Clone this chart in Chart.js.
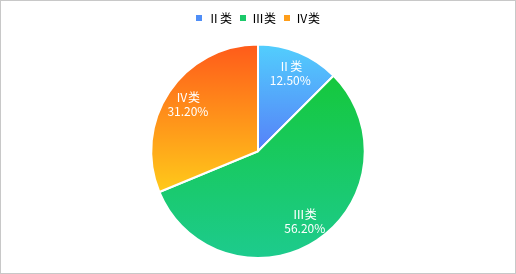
<!DOCTYPE html>
<html>
<head>
<meta charset="utf-8">
<script src="https://cdn.jsdelivr.net/npm/chart.js@4"></script>
<style>
    body { margin: 0; background: #fff; }
    #wrap { width: 514px; height: 272px; border: 1px solid #c8c8c8; position: relative; }
</style>
</head>
<body>
<div id="wrap"><canvas id="pie-chart"></canvas></div>
<script>
// chart data
const categories = ['Ⅱ类', 'Ⅲ类', 'Ⅳ类'];
const shares = [12.5, 56.2, 31.2];

// gradient stops per slice (top -> bottom)
const gradTop = ['#52cffd', '#15c83c', '#ff5a1a'];
const gradBottom = ['#5680f8', '#1dcb8e', '#ffca1a'];
const legendColors = ['#4f8ef7', '#1bc96a', '#ff9e1a'];

const fontFamily = '"Noto Sans CJK SC", "Noto Sans", sans-serif';

function sliceGradient(context) {
    const chart = context.chart;
    const area = chart.chartArea;
    const i = context.dataIndex;
    if (!area) return legendColors[i];
    const cx = (area.left + area.right) / 2;
    const cy = (area.top + area.bottom) / 2;
    const r = Math.min(area.width, area.height) / 2;
    const total = shares.reduce((a, b) => a + b, 0);
    let before = 0;
    for (let k = 0; k < i; k++) before += shares[k];
    const a0 = -Math.PI / 2 + before / total * Math.PI * 2;
    const a1 = a0 + shares[i] / total * Math.PI * 2;
    // vertical extent of the slice
    let ys = [cy, cy + Math.sin(a0) * r, cy + Math.sin(a1) * r];
    [-Math.PI / 2, Math.PI / 2, Math.PI * 1.5].forEach(a => {
        if (a > a0 && a < a1) ys.push(cy + Math.sin(a) * r);
    });
    const top = Math.min(...ys), bottom = Math.max(...ys);
    const g = chart.ctx.createLinearGradient(0, top, 0, bottom);
    g.addColorStop(0, gradTop[i]);
    g.addColorStop(1, gradBottom[i]);
    return g;
}

// extra gap under the legend
const legendGap = {
    id: 'legendGap',
    beforeLayout(chart) {
        const legend = chart.legend;
        if (!legend || legend._gapDone) return;
        const fit = legend.fit;
        legend.fit = function () {
            fit.call(this);
            this.height += 9.5;
        };
        legend._gapDone = true;
    }
};

const insideLabels = {
    id: 'insideLabels',
    afterDatasetsDraw(chart) {
        const ctx = chart.ctx;
        const meta = chart.getDatasetMeta(0);
        ctx.save();
        ctx.fillStyle = '#fff';
        ctx.font = '12px ' + fontFamily;
        ctx.textAlign = 'center';
        ctx.textBaseline = 'middle';
        meta.data.forEach((arc, i) => {
            const p = arc.getProps(['x', 'y', 'startAngle', 'endAngle', 'outerRadius'], true);
            const mid = (p.startAngle + p.endAngle) / 2;
            const d = p.outerRadius * 0.79;
            const x = p.x + Math.cos(mid) * d;
            const y = p.y + Math.sin(mid) * d;
            ctx.fillText(categories[i], x, y - 7);
            ctx.fillText(shares[i].toFixed(2) + '%', x, y + 7);
        });
        ctx.restore();
    }
};

new Chart(document.getElementById('pie-chart'), {
    type: 'pie',
    data: {
        labels: categories,
        datasets: [{
            data: shares,
            backgroundColor: sliceGradient,
            borderColor: '#fff',
            borderWidth: 2
        }]
    },
    options: {
        responsive: true,
        maintainAspectRatio: false,
        animation: false,
        layout: { padding: { top: 3, bottom: 14 } },
        plugins: {
            legend: {
                position: 'top',
                labels: {
                    boxWidth: 6,
                    boxHeight: 6,
                    padding: 8,
                    color: '#555',
                    font: { size: 12, family: fontFamily },
                    generateLabels: chart => categories.map((c, i) => ({
                        text: c,
                        fillStyle: legendColors[i],
                        strokeStyle: legendColors[i],
                        lineWidth: 0,
                        index: i
                    }))
                }
            },
            tooltip: { enabled: false }
        }
    },
    plugins: [legendGap, insideLabels]
});
</script>
</body>
</html>
